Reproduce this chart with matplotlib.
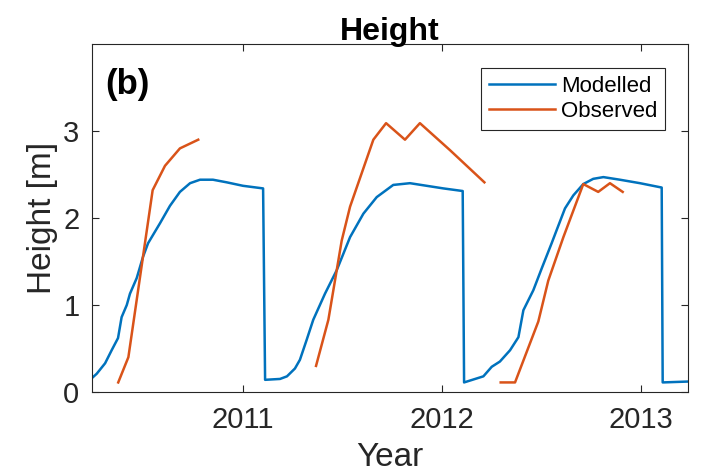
import matplotlib
matplotlib.use("Agg")
import matplotlib.pyplot as plt

plt.rcParams['font.family'] = ['Liberation Sans', 'DejaVu Sans']

# Modelled height (decimal year, m)
mod_year = [2010.241, 2010.265, 2010.307, 2010.340, 2010.372, 2010.390, 2010.416, 2010.432,
            2010.466, 2010.497, 2010.523, 2010.583, 2010.633, 2010.683, 2010.734, 2010.784,
            2010.849, 2010.918, 2011.000, 2011.101, 2011.111, 2011.186, 2011.221, 2011.261,
            2011.286, 2011.320, 2011.353, 2011.412, 2011.471, 2011.538, 2011.605, 2011.672,
            2011.755, 2011.839, 2011.923, 2012.007, 2012.104, 2012.111, 2012.208, 2012.250,
            2012.291, 2012.342, 2012.384, 2012.409, 2012.459, 2012.501, 2012.551, 2012.576,
            2012.618, 2012.660, 2012.710, 2012.760, 2012.811, 2012.894, 2012.995, 2013.104,
            2013.109, 2013.235]
mod_height = [0.16, 0.21, 0.33, 0.48, 0.62, 0.86, 1.00, 1.13,
              1.31, 1.55, 1.71, 1.94, 2.14, 2.30, 2.40, 2.44,
              2.44, 2.41, 2.37, 2.34, 0.14, 0.15, 0.18, 0.27,
              0.37, 0.60, 0.83, 1.13, 1.40, 1.78, 2.05, 2.24,
              2.38, 2.40, 2.37, 2.34, 2.31, 0.11, 0.18, 0.29,
              0.35, 0.48, 0.63, 0.94, 1.17, 1.42, 1.71, 1.86,
              2.11, 2.26, 2.39, 2.45, 2.47, 2.44, 2.40, 2.35,
              0.11, 0.12]

# Observed height, three seasons (NaN separates seasons)
nan = float('nan')
obs_year = [2010.373, 2010.424, 2010.546, 2010.608, 2010.683, 2010.775, nan,
            2011.367, 2011.429, 2011.496, 2011.538, 2011.655, 2011.719, 2011.814, 2011.889,
            2012.040, 2012.213, nan,
            2012.295, 2012.367, 2012.484, 2012.534, 2012.610, 2012.710, 2012.785, 2012.844,
            2012.908]
obs_height = [0.11, 0.40, 2.32, 2.60, 2.80, 2.90, nan,
              0.30, 0.83, 1.74, 2.13, 2.90, 3.09, 2.90, 3.09,
              2.78, 2.41, nan,
              0.11, 0.11, 0.81, 1.28, 1.78, 2.39, 2.30, 2.40,
              2.30]

xticks = [2011, 2012, 2013]
xticklabels = ['2011', '2012', '2013']
yticks = [0, 1, 2, 3]

fig = plt.figure(figsize=(7.02, 4.72), dpi=100)
ax = fig.add_axes([0.131, 0.1695, 0.849, 0.7373])

ax.plot(mod_year, mod_height, color='#0072BD', lw=1.8, label='Modelled')
ax.plot(obs_year, obs_height, color='#D95319', lw=1.8, label='Observed')

ax.set_xlim(2010.241, 2013.236)
ax.set_ylim(0, 4)
ax.set_xticks(xticks)
ax.set_xticklabels(xticklabels)
ax.set_yticks(yticks)

grey = '#262626'
for s in ax.spines.values():
    s.set_color(grey)
    s.set_linewidth(0.8)
ax.tick_params(direction='in', top=True, right=True, length=5, width=0.8,
               colors=grey, labelsize=21)
ax.tick_params(axis='x', pad=10)
ax.tick_params(axis='y', pad=9)

ax.set_xlabel('Year', fontsize=24, color=grey, labelpad=6)
ax.set_ylabel('Height [m]', fontsize=24, color=grey, labelpad=4)
ax.set_title('Height', fontsize=23, fontweight='bold', pad=3)

ax.text(0.022, 0.93, '(b)', transform=ax.transAxes, fontsize=25, fontweight='bold',
        va='top', ha='left')

leg = ax.legend(loc='upper right', bbox_to_anchor=(0.9614, 0.931), borderaxespad=0,
                fontsize=16, frameon=True, fancybox=False, edgecolor=grey, framealpha=1,
                handlelength=3.0, borderpad=0.35, labelspacing=0.2, handletextpad=0.25)
leg.get_frame().set_linewidth(0.8)

fig.savefig('out.png', dpi=100)
